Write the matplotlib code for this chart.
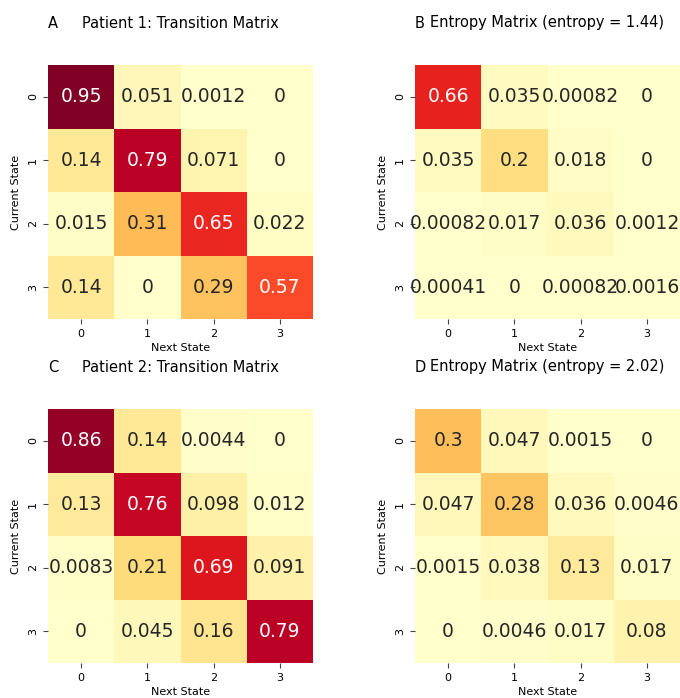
import matplotlib
matplotlib.use("Agg")
from matplotlib import pyplot as plt
import numpy as np
import seaborn as sns

# transition / entropy matrices for both patients
states = [0, 1, 2, 3]

patient1_transition = [[0.95, 0.051, 0.0012, 0],
                       [0.14, 0.79, 0.071, 0],
                       [0.015, 0.31, 0.65, 0.022],
                       [0.14, 0, 0.29, 0.57]]

patient1_entropy = [[0.66, 0.035, 0.00082, 0],
                    [0.035, 0.2, 0.018, 0],
                    [0.00082, 0.017, 0.036, 0.0012],
                    [0.00041, 0, 0.00082, 0.0016]]

patient2_transition = [[0.86, 0.14, 0.0044, 0],
                       [0.13, 0.76, 0.098, 0.012],
                       [0.0083, 0.21, 0.69, 0.091],
                       [0, 0.045, 0.16, 0.79]]

patient2_entropy = [[0.3, 0.047, 0.0015, 0],
                    [0.047, 0.28, 0.036, 0.0046],
                    [0.0015, 0.038, 0.13, 0.017],
                    [0, 0.0046, 0.017, 0.08]]

entropy_totals = [1.44, 2.02]

panels = [
    ("A", "Patient 1: Transition Matrix", patient1_transition),
    ("B", "Entropy Matrix (entropy = %.2f)" % entropy_totals[0], patient1_entropy),
    ("C", "Patient 2: Transition Matrix", patient2_transition),
    ("D", "Entropy Matrix (entropy = %.2f)" % entropy_totals[1], patient2_entropy),
]

W, H = 680, 698
fig = plt.figure(figsize=(W / 100, H / 100), dpi=100)

# axes boxes in pixels: left, top, width, height
boxes = [(48, 65), (415, 65), (48, 409), (415, 409)]
bw, bh = 265, 254

for (letter, title, mat), (x0, y0) in zip(panels, boxes):
    ax = fig.add_axes([x0 / W, (H - y0 - bh) / H, bw / W, bh / H])
    sns.heatmap(np.array(mat), ax=ax, cmap="YlOrRd", vmin=0, vmax=0.9,
                annot=True, cbar=False, annot_kws={"size": 13.5},
                xticklabels=states, yticklabels=states)
    ax.set_title(title, fontsize=10.5, pad=27)
    ax.set_title(letter, fontsize=10.5, pad=27, loc="left")
    ax.set_xlabel("Next State", fontsize=8, labelpad=3)
    ax.set_ylabel("Current State", fontsize=8, labelpad=5)
    ax.tick_params(axis="both", labelsize=8, length=3.5, width=0.8, color="#444444")
    plt.setp(ax.get_yticklabels(), rotation=90, va="center")
    plt.setp(ax.get_xticklabels(), rotation=0)

fig.savefig("out.png", dpi=100, facecolor="white")
